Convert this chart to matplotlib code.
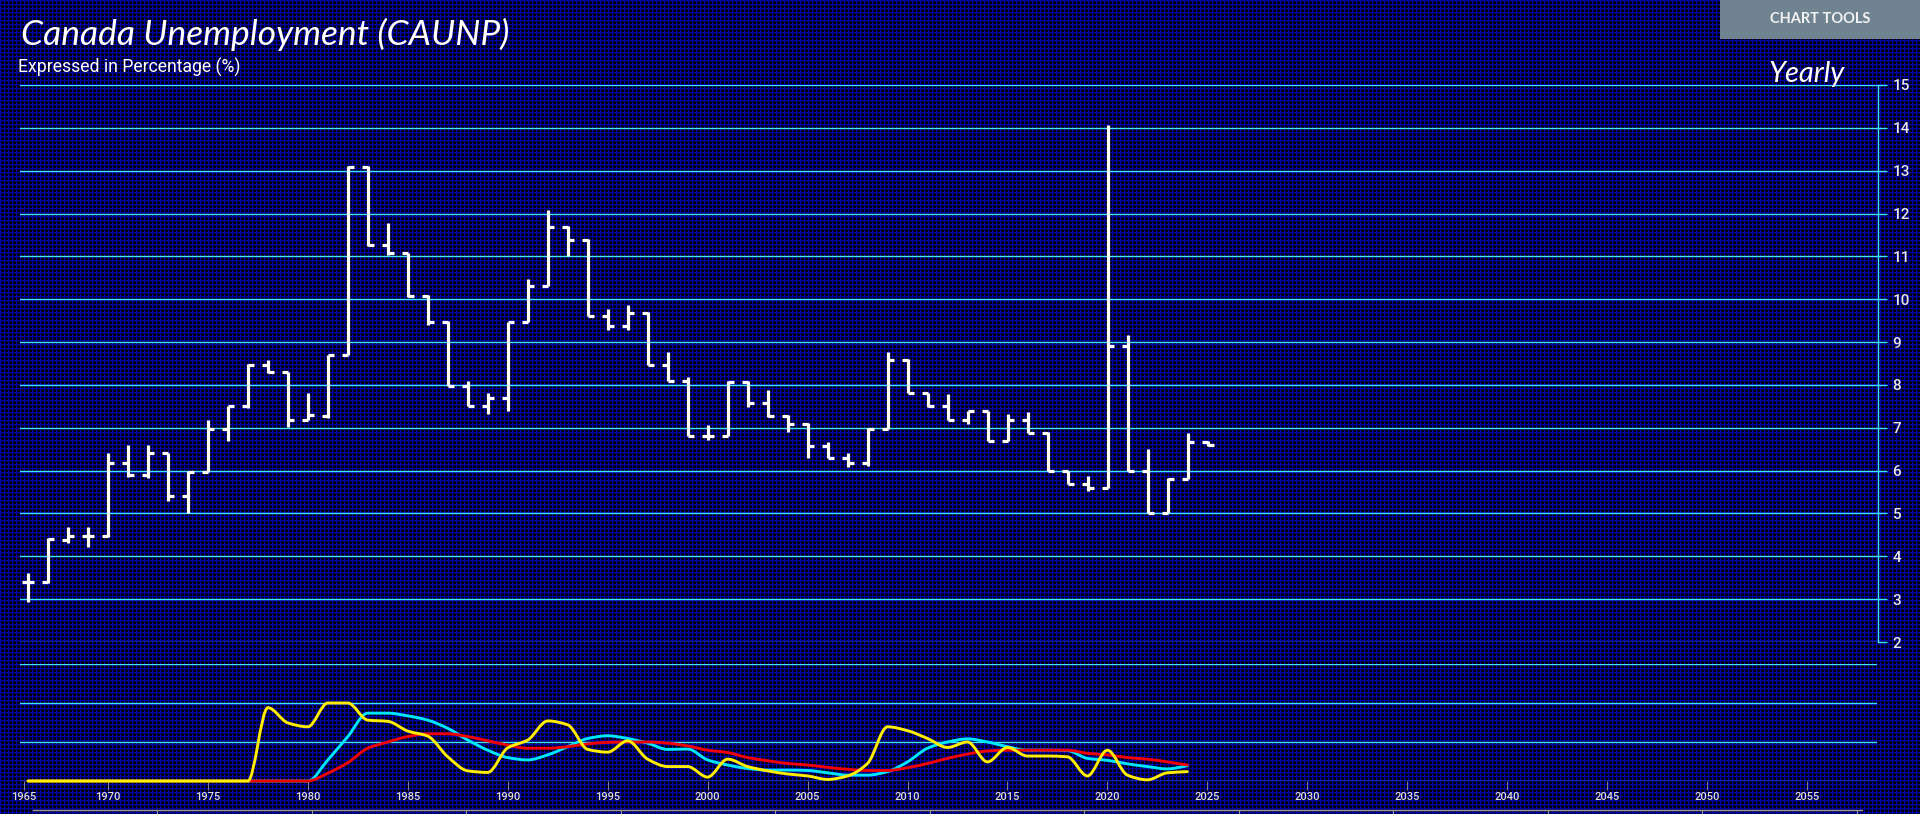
import numpy as np
import matplotlib
matplotlib.use("Agg")
import matplotlib.pyplot as plt
from matplotlib.patches import Rectangle, PathPatch
from matplotlib.path import Path
from matplotlib.lines import Line2D

# ---------------- data ----------------
years = list(range(1966, 2026))
opens = [3.39, 3.40, 4.38, 4.48, 4.48, 6.18, 5.89, 6.40, 5.40, 5.97,
         6.98, 7.50, 8.47, 8.29, 7.19, 7.27, 8.69, 13.08, 11.27, 11.09,
         10.08, 9.48, 7.98, 7.50, 7.69, 9.48, 10.30, 11.69, 11.39, 9.60,
         9.37, 9.68, 8.46, 8.08, 6.80, 6.80, 8.06, 7.58, 7.28, 7.09,
         6.58, 6.29, 6.18, 6.98, 8.59, 7.80, 7.50, 7.19, 7.38, 6.68,
         7.19, 6.88, 5.98, 5.69, 5.59, 8.90, 5.98, 5.00, 5.80, 6.67]
highs = [3.61, 4.42, 4.69, 4.69, 6.40, 6.59, 6.59, 6.42, 6.00, 7.19,
         7.51, 8.50, 8.59, 8.30, 7.80, 8.71, 13.10, 13.10, 11.79, 11.09,
         10.10, 9.50, 8.08, 7.80, 9.48, 10.48, 12.09, 11.72, 11.41, 9.78,
         9.87, 9.70, 8.77, 8.19, 7.07, 8.09, 8.09, 7.89, 7.30, 7.11,
         6.67, 6.40, 7.00, 8.77, 8.60, 7.81, 7.78, 7.38, 7.40, 7.31,
         7.37, 6.90, 6.00, 5.88, 14.07, 9.17, 6.50, 5.82, 6.88, 6.70]
lows = [2.93, 3.38, 4.32, 4.21, 4.46, 5.86, 5.82, 5.30, 5.01, 5.97,
        6.69, 7.47, 8.28, 7.01, 7.19, 7.22, 8.69, 11.25, 11.04, 10.06,
        9.40, 7.98, 7.50, 7.31, 7.40, 9.46, 10.30, 11.00, 9.60, 9.29,
        9.29, 8.46, 8.08, 6.80, 6.71, 6.80, 7.49, 7.26, 6.90, 6.30,
        6.29, 6.08, 6.11, 6.98, 7.80, 7.49, 7.19, 7.08, 6.68, 6.68,
        6.88, 5.98, 5.69, 5.52, 5.59, 5.98, 5.00, 5.00, 5.80, 6.58]
closes = [3.39, 4.40, 4.48, 4.48, 6.18, 5.89, 6.40, 5.40, 5.97, 6.98,
          7.50, 8.47, 8.29, 7.19, 7.29, 8.69, 13.08, 11.27, 11.09, 10.08,
          9.48, 7.98, 7.50, 7.69, 9.48, 10.30, 11.69, 11.39, 9.60, 9.37,
          9.68, 8.46, 8.08, 6.80, 6.80, 8.06, 7.58, 7.28, 7.09, 6.58,
          6.29, 6.18, 6.98, 8.59, 7.80, 7.50, 7.19, 7.38, 6.68, 7.19,
          6.88, 5.98, 5.69, 5.59, 8.90, 5.98, 5.00, 5.80, 6.67, 6.59]

ind_years = list(range(1966, 2025))
yellow_vals = [0.0] * 12 + [1.88, 1.49, 1.39, 2.00, 2.00, 1.56, 1.53, 1.28, 1.15, 0.62,
                            0.26, 0.22, 0.85, 1.05, 1.54, 1.44, 0.81, 0.74, 1.03, 0.56,
                            0.37, 0.37, 0.10, 0.56, 0.37, 0.26, 0.18, 0.13, 0.04, 0.13,
                            0.45, 1.39, 1.29, 1.09, 0.86, 1.00, 0.49, 0.86, 0.64, 0.64,
                            0.62, 0.13, 0.79, 0.15, 0.03, 0.21, 0.24]
cyan_vals = [0.0] * 15 + [0.54, 1.14, 1.74, 1.74, 1.67, 1.56, 1.35, 1.05, 0.79, 0.60,
                          0.54, 0.67, 0.88, 1.09, 1.16, 1.09, 0.97, 0.81, 0.82, 0.54,
                          0.41, 0.32, 0.28, 0.28, 0.27, 0.21, 0.15, 0.15, 0.24, 0.49,
                          0.84, 1.00, 1.08, 1.00, 0.88, 0.79, 0.79, 0.78, 0.58, 0.53,
                          0.44, 0.37, 0.31, 0.39]
red_vals = [0.0] * 15 + [0.20, 0.47, 0.84, 1.00, 1.14, 1.21, 1.21, 1.14, 1.03, 0.92,
                         0.84, 0.84, 0.88, 0.95, 0.99, 1.00, 1.00, 0.97, 0.90, 0.79,
                         0.73, 0.60, 0.52, 0.45, 0.41, 0.35, 0.30, 0.27, 0.27, 0.34,
                         0.45, 0.58, 0.69, 0.77, 0.79, 0.79, 0.79, 0.79, 0.71, 0.67,
                         0.60, 0.56, 0.49, 0.41]

y_ticks = list(range(2, 16))
x_ticks = list(range(1970, 2060, 5))

# ---------------- figure ----------------
W, H = 1920, 814
fig = plt.figure(figsize=(W / 100, H / 100), dpi=100, facecolor="black")

# background blue grid pattern
blue = np.array([0.0, 0.0, 0.64])
xx = np.arange(W) % 4
yy = np.arange(H) % 4
colw = np.where(xx == 0, 1.0, np.where(xx == 1, 0.35, 0.0))
roww = np.where(yy == 0, 1.0, np.where(yy == 1, 0.35, 0.0))
wgt = np.maximum(colw[None, :], roww[:, None])
img = wgt[:, :, None] * blue[None, None, :]
fig.figimage(img, xo=0, yo=0, origin="upper", zorder=-5)


def fx(px):
    return px / W


def fy(py):
    return 1 - py / H


def smooth_path(x, y):
    """Monotone cubic (Fritsch-Carlson) curve through the points, as Bezier path."""
    x = np.asarray(x, float)
    y = np.asarray(y, float)
    h = np.diff(x)
    d = np.diff(y) / h
    m = np.zeros_like(y)
    m[0], m[-1] = d[0], d[-1]
    for i in range(1, len(y) - 1):
        if d[i - 1] * d[i] <= 0:
            m[i] = 0.0
        else:
            m[i] = 2.0 / (1.0 / d[i - 1] + 1.0 / d[i])
    verts = [(x[0], y[0])]
    codes = [Path.MOVETO]
    for i in range(len(x) - 1):
        verts += [(x[i] + h[i] / 3, y[i] + m[i] * h[i] / 3),
                  (x[i + 1] - h[i] / 3, y[i + 1] - m[i + 1] * h[i] / 3),
                  (x[i + 1], y[i + 1])]
        codes += [Path.CURVE4] * 3
    return Path(verts, codes)


GRID = "#3fe4ff"
XMIN = 2000 + (20 - 708) / 20.0
XMAX = 2000 + (1878 - 708) / 20.0

# ---------------- main axes ----------------
ax = fig.add_axes([fx(20), fy(642), (1878 - 20) / W, (642 - 85) / H])
ax.set_facecolor("none")
ax.set_xlim(XMIN, XMAX)
ax.set_ylim(2, 15)
for s in ["top", "left", "bottom"]:
    ax.spines[s].set_visible(False)
ax.spines["right"].set_color(GRID)
ax.spines["right"].set_linewidth(1.0)
ax.yaxis.tick_right()
ax.set_yticks(y_ticks)
ax.set_yticklabels([str(v) for v in y_ticks], fontfamily="Roboto",
                   fontweight="medium", fontsize=11, color="#e6e6e6")
ax.tick_params(axis="y", length=6.5, width=1.0, color=GRID, pad=4)
ax.set_xticks([])
ax.grid(axis="y", color=GRID, linewidth=1.0)
ax.set_axisbelow(True)

yrs = np.array(years, dtype=float)
tick_len = 0.28
ax.vlines(yrs, lows, highs, colors="white", linewidth=2.3, zorder=3)
ax.hlines(opens, yrs - tick_len, yrs, colors="white", linewidth=2.3, zorder=3)
ax.hlines(closes, yrs, yrs + tick_len, colors="white", linewidth=2.3, zorder=3)

# ---------------- lower indicator axes ----------------
ax2 = fig.add_axes([fx(20), fy(781), (1877 - 20) / W, (781 - 664) / H])
ax2.set_facecolor("none")
ax2.set_xlim(XMIN, XMAX)
ax2.set_ylim(0, 3)
for s in ax2.spines.values():
    s.set_visible(False)
ax2.set_yticks([0, 1, 2, 3])
ax2.tick_params(axis="y", length=0, labelleft=False)
ax2.grid(axis="y", color=GRID, linewidth=1.0)
ax2.set_axisbelow(True)
xt = [1965.8] + x_ticks
ax2.set_xticks(xt)
ax2.set_xticklabels(["1965"] + [str(v) for v in x_ticks], fontfamily="Roboto",
                    fontweight="medium", fontsize=8, color="#dcdcdc")
ax2.tick_params(axis="x", length=6.5, width=0.6, color="#9a9a9a", pad=1.5)

iy = np.array(ind_years, dtype=float)
for vals, col, z in [(cyan_vals, "#00e8ff", 3), (red_vals, "#f00000", 4),
                     (yellow_vals, "#ffee00", 5)]:
    ax2.add_patch(PathPatch(smooth_path(iy, vals), facecolor="none", edgecolor=col,
                            linewidth=2.1, joinstyle="round", capstyle="round",
                            zorder=z, clip_on=False))

# navigator strip at the very bottom
fig.add_artist(Line2D([fx(33), fx(1862)], [fy(810), fy(810)], transform=fig.transFigure,
                      color="#9a9a9a", linewidth=1.0))
for px in np.arange(157, 1862, 154.5):
    fig.add_artist(Line2D([fx(px), fx(px)], [fy(810), fy(814)], transform=fig.transFigure,
                          color="#9a9a9a", linewidth=0.8))

# ---------------- texts ----------------
fig.text(fx(21), fy(45), "Canada Unemployment (CAUNP)", fontfamily="Lato",
         fontstyle="italic", fontsize=25.5, color="white",
         va="baseline", ha="left")
fig.text(fx(18), fy(73), "Expressed in Percentage (%)", fontfamily="Roboto",
         fontsize=12.7, color="white", va="baseline", ha="left")
fig.text(fx(1845), fy(82), "Yearly", fontfamily="Lato", fontstyle="italic",
         fontsize=21, color="white", va="baseline", ha="right")

fig.add_artist(Rectangle((fx(1720), fy(39)), 200 / W, 39 / H, transform=fig.transFigure,
                         facecolor="#6f8391", edgecolor="none"))
fig.text(fx(1820), fy(19), "CHART TOOLS",
         fontfamily="Lato", fontweight="bold", fontsize=10.5, color="#f2f2f2",
         va="center", ha="center")

fig.savefig("out.png", dpi=100, facecolor="black")
